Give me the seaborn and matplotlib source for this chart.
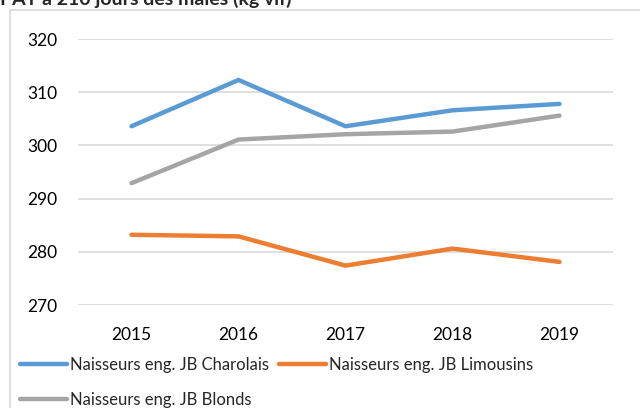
import pandas as pd
import matplotlib.pyplot as plt
import seaborn as sns
from matplotlib.patches import Rectangle

# Données (kg vif)
annees = [2015, 2016, 2017, 2018, 2019]
charolais = [303.6, 312.3, 303.6, 306.6, 307.8]
limousins = [283.2, 282.9, 277.4, 280.6, 278.1]
blonds = [292.9, 301.1, 302.1, 302.6, 305.6]
series = ['Naisseurs eng. JB Charolais', 'Naisseurs eng. JB Limousins', 'Naisseurs eng. JB Blonds']
couleurs = ['#5B9BD5', '#ED7D31', '#A5A5A5']
titre = 'PAT à 210 jours des mâles (kg vif)'

df = pd.DataFrame({
    'annee': annees * 3,
    'poids': charolais + limousins + blonds,
    'serie': [series[0]] * 5 + [series[1]] * 5 + [series[2]] * 5,
})

sns.set_style('white')
plt.rcParams['font.family'] = ['Lato', 'DejaVu Sans']

fig = plt.figure(figsize=(6.4, 4.08), dpi=100)
ax = fig.add_axes([78 / 640, 1 - 305 / 408, 535 / 640, 266 / 408])

sns.lineplot(data=df, x='annee', y='poids', hue='serie', hue_order=series,
             palette=couleurs, linewidth=3.2, ax=ax, legend=True)
for line in ax.lines:
    line.set_solid_capstyle('round')

ax.set_xlim(2014.5, 2019.5)
ax.set_ylim(270, 320)
ax.set_xticks(annees)
ax.set_yticks(range(270, 321, 10))
ax.grid(axis='y', color='#D9D9D9', linewidth=1.2)
ax.set_axisbelow(True)
for s in ax.spines.values():
    s.set_visible(False)
ax.tick_params(length=0, labelsize=12.5, colors='#000000')
ax.tick_params(axis='y', pad=15)
ax.tick_params(axis='x', pad=16)
ax.set_xlabel('')
ax.set_ylabel('')

# ordre : ligne 1 Charolais / Limousins, ligne 2 Blonds
handles, labels = ax.get_legend_handles_labels()
ordre = [0, 2, 1]
ax.get_legend().remove()
fig.legend([handles[i] for i in ordre], [labels[i] for i in ordre], ncol=2,
           loc='upper left', bbox_to_anchor=(20 / 640, 1 - 357 / 408), frameon=False,
           fontsize=12, handlelength=2.8, handletextpad=0.2,
           columnspacing=0.6, labelspacing=1.15, borderpad=0, borderaxespad=0)

# cadre de la zone de graphique
fig.add_artist(Rectangle((10 / 640, -0.1), 1.0, 1.1 - 10 / 408, transform=fig.transFigure,
                         fill=False, edgecolor='#D9D9D9', linewidth=1.2))

fig.text(0.0, 1 - 5 / 408, titre, fontsize=14, fontweight='bold', va='baseline', ha='left')

fig.savefig('out.png', dpi=100, facecolor='white')
